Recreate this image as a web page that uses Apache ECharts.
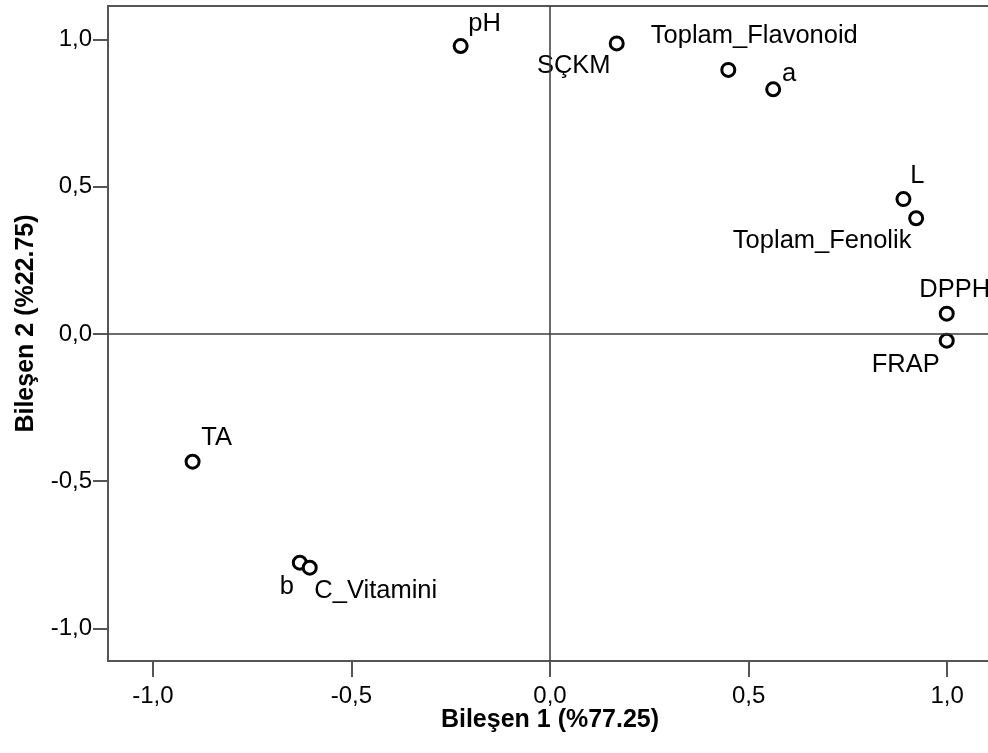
<!DOCTYPE html>
<html>
<head>
<meta charset="utf-8">
<script src="https://cdn.jsdelivr.net/npm/echarts@6/dist/echarts.min.js"></script>
<style>
  html, body { margin: 0; padding: 0; background: #fff; }
  #chart { width: 988px; height: 753px; }
</style>
</head>
<body>
<div id="chart"></div>
<script>
// değişken adları (bileşen yükleri)
const names = ['pH', 'SÇKM', 'Toplam_Flavonoid', 'a', 'L', 'Toplam_Fenolik', 'DPPH', 'FRAP', 'TA', 'b', 'C_Vitamini'];
// Bileşen 1 yükleri
const comp1 = [-0.225, 0.168, 0.449, 0.562, 0.890, 0.922, 0.999, 0.999, -0.900, -0.630, -0.605];
// Bileşen 2 yükleri
const comp2 = [0.978, 0.987, 0.897, 0.831, 0.458, 0.393, 0.069, -0.023, -0.434, -0.777, -0.794];
// eksen işaretleri
const ticks = [-1, -0.5, 0, 0.5, 1];

// etiketlerin noktaya göre kayması (sadece görünüm)
const labelOffsets = [[24, -22], [-43, 23], [26, -34], [16, -15], [14, -23], [-94, 23], [8, -24], [-41, 24], [24, -24], [-13, 24], [66, 23]];

const font = '"Liberation Sans", Arial, sans-serif';
const axisColor = '#555';
const fmt = v => v.toFixed(1).replace('.', ',');

const chart = echarts.init(document.getElementById('chart'));

const points = names.map((n, i) => ({
    name: n,
    value: [comp1[i], comp2[i]],
    label: { offset: labelOffsets[i] }
}));

const option = {
    backgroundColor: '#fff',
    animation: false,
    grid: {
        left: 108, top: 6, right: -4, bottom: 92,
        outerBoundsMode: 'none',
        containLabel: false,
        show: true, borderColor: axisColor, borderWidth: 2
    },
    xAxis: {
        type: 'value',
        min: -1.113, max: 1.113,
        name: 'Bileşen 1 (%77.25)',
        nameLocation: 'middle',
        nameGap: 47,
        nameMoveOverlap: false,
        nameTextStyle: { fontFamily: font, fontSize: 25, fontWeight: 'bold', color: '#000' },
        splitLine: { show: false },
        axisLine: { show: true, onZero: false, lineStyle: { color: axisColor, width: 2 } },
        axisTick: { show: true, length: 16, customValues: ticks, lineStyle: { color: axisColor, width: 2 } },
        axisLabel: { customValues: ticks, formatter: fmt, margin: 23, fontFamily: font, fontSize: 24, color: '#000' }
    },
    yAxis: {
        type: 'value',
        min: -1.111, max: 1.114,
        name: 'Bileşen 2 (%22.75)',
        nameLocation: 'middle',
        nameGap: 69,
        nameTextStyle: { fontFamily: font, fontSize: 25, fontWeight: 'bold', color: '#000', padding: [0, 0, 0, 20] },
        splitLine: { show: false },
        axisLine: { show: true, onZero: false, lineStyle: { color: axisColor, width: 2 } },
        axisTick: { show: true, length: 15, customValues: ticks, lineStyle: { color: axisColor, width: 2 } },
        axisLabel: { customValues: ticks, formatter: fmt, margin: 16, fontFamily: font, fontSize: 24, color: '#000' }
    },
    series: [{
        type: 'scatter',
        symbol: 'circle',
        symbolSize: 13,
        itemStyle: { color: '#fff', borderColor: '#000', borderWidth: 3, opacity: 1 },
        label: {
            show: true,
            position: 'inside',
            formatter: '{b}',
            fontFamily: font,
            fontSize: 25.5,
            color: '#000'
        },
        emphasis: { disabled: true },
        markLine: {
            silent: true,
            symbol: 'none',
            label: { show: false },
            lineStyle: { color: '#3a3a3a', width: 1.5, type: 'solid' },
            data: [{ xAxis: 0 }, { yAxis: 0 }]
        },
        data: points
    }]
};

chart.setOption(option);
</script>
</body>
</html>
